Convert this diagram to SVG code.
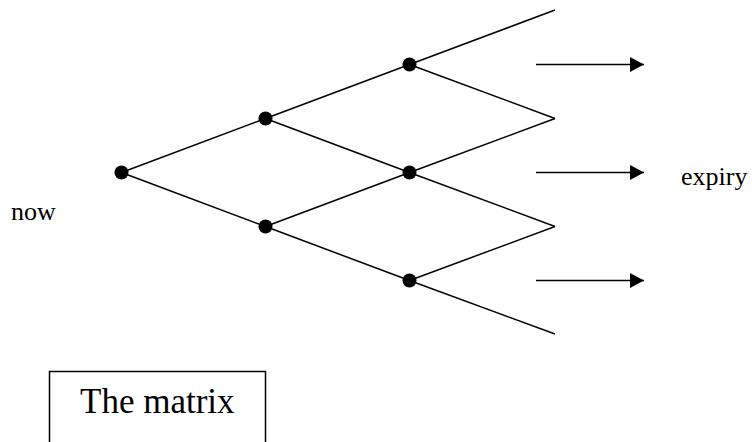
<svg xmlns="http://www.w3.org/2000/svg" width="752" height="442" viewBox="0 0 752 442">
<style>
.edge{stroke:#000;stroke-width:1.5;fill:none}
.node{fill:#000}
.lbl{font-family:"Liberation Serif","Times New Roman",serif;fill:#000}
</style>
<defs>
<marker id="ah" markerUnits="userSpaceOnUse" markerWidth="14" markerHeight="15" refX="14" refY="7.5" orient="auto">
<path d="M0,0 L14,7.5 L0,15 Z" fill="#000"/>
</marker>
</defs>
<rect width="752" height="442" fill="#fff"/>
<g id="connectors">
<line class="edge" x1="121.5" y1="172.5" x2="265.5" y2="118.5"/>
<line class="edge" x1="121.5" y1="172.5" x2="265.5" y2="226.5"/>
<line class="edge" x1="265.5" y1="118.5" x2="409.5" y2="64.5"/>
<line class="edge" x1="265.5" y1="118.5" x2="409.5" y2="172.5"/>
<line class="edge" x1="265.5" y1="226.5" x2="409.5" y2="172.5"/>
<line class="edge" x1="265.5" y1="226.5" x2="409.5" y2="280.5"/>
<line class="edge" x1="409.5" y1="64.5" x2="555" y2="10"/>
<line class="edge" x1="409.5" y1="64.5" x2="555" y2="118.5"/>
<line class="edge" x1="409.5" y1="172.5" x2="555" y2="118.5"/>
<line class="edge" x1="409.5" y1="172.5" x2="555" y2="226.5"/>
<line class="edge" x1="409.5" y1="280.5" x2="555" y2="226.5"/>
<line class="edge" x1="409.5" y1="280.5" x2="555" y2="334"/>
<line class="edge" x1="536" y1="64.5" x2="644" y2="64.5" marker-end="url(#ah)"/>
<line class="edge" x1="536" y1="172.5" x2="644" y2="172.5" marker-end="url(#ah)"/>
<line class="edge" x1="536" y1="280.5" x2="644" y2="280.5" marker-end="url(#ah)"/>
</g>
<g id="n0"><circle class="node" cx="121.5" cy="172.5" r="7"/></g>
<g id="n1"><circle class="node" cx="265.5" cy="118.5" r="7"/></g>
<g id="n2"><circle class="node" cx="265.5" cy="226.5" r="7"/></g>
<g id="n3"><circle class="node" cx="409.5" cy="64.5" r="7"/></g>
<g id="n4"><circle class="node" cx="409.5" cy="172.5" r="7"/></g>
<g id="n5"><circle class="node" cx="409.5" cy="280.5" r="7"/></g>
<g id="now"><text class="lbl" x="11" y="220" font-size="26">now</text></g>
<g id="expiry"><text class="lbl" x="681" y="185" font-size="26">expiry</text></g>
<g id="matrix">
<rect x="49.5" y="371.5" width="216" height="80" fill="none" stroke="#000" stroke-width="1.5"/>
<text class="lbl" x="80" y="413" font-size="35">The matrix</text>
</g>
</svg>
